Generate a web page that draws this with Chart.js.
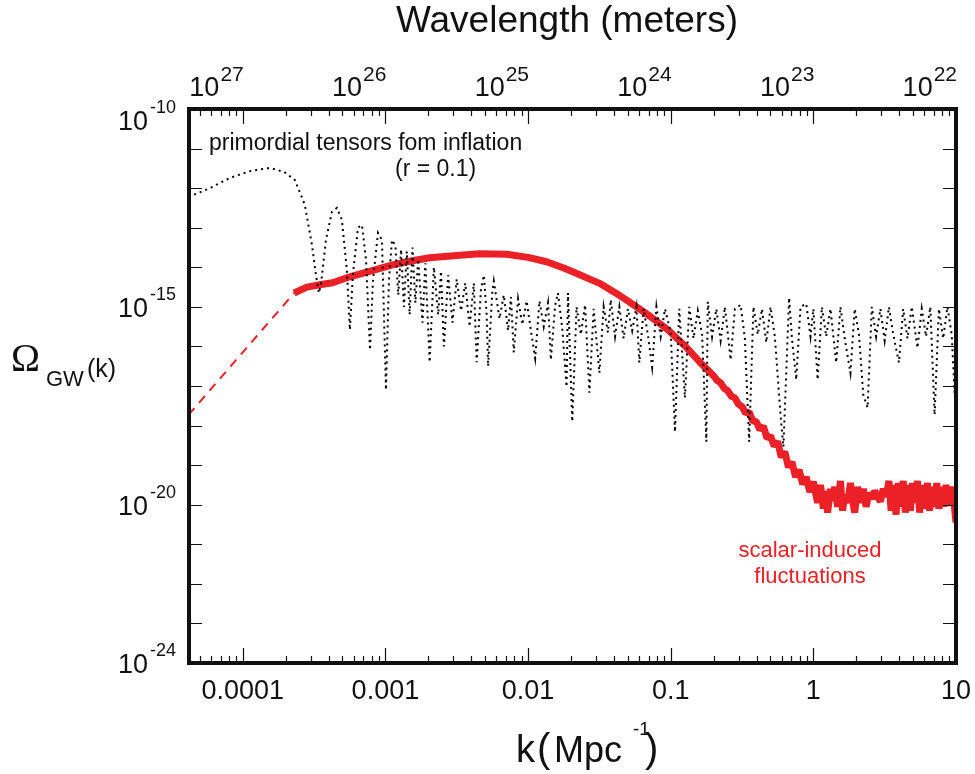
<!DOCTYPE html>
<html>
<head>
<meta charset="utf-8">
<script src="https://cdn.jsdelivr.net/npm/chart.js@4.4.1/dist/chart.umd.min.js"></script>
<style>
  html, body { margin: 0; padding: 0; background: #fff; }
  #wrap { width: 975px; height: 774px; }
</style>
</head>
<body>
<div id="wrap"><canvas id="chart" width="975" height="774"></canvas></div>
<script>
// log10(k) and log10(Omega)
const tensorLogK = [
  -4.38, -4.23, -4.09, -3.95, -3.81, -3.71, -3.635, -3.565, -3.515, -3.487, -3.466, -3.452, -3.417, -3.375, -3.34, -3.305,
  -3.27, -3.249, -3.228, -3.192, -3.164, -3.136, -3.108, -3.087, -3.052, -3.024, -2.996, -2.975, -2.954,
  -2.93, -2.91, -2.89, -2.87, -2.85, -2.83, -2.81, -2.79, -2.77, -2.74, -2.72, -2.69, -2.66, -2.63, -2.61, -2.59,
  -2.56, -2.53, -2.50, -2.47, -2.44, -2.41, -2.38, -2.36, -2.33, -2.31, -2.29, -2.28, -2.25, -2.24, -2.20, -2.17,
  -2.14, -2.12, -2.10, -2.07, -2.04, -2.01, -1.98, -1.95, -1.92, -1.89, -1.86, -1.84, -1.81, -1.79, -1.76, -1.73,
  -1.72, -1.69, -1.66, -1.63, -1.60, -1.57, -1.54, -1.50, -1.47, -1.44, -1.42, -1.39, -1.36, -1.33, -1.30, -1.27,
  -1.24, -1.22, -1.19, -1.16, -1.13, -1.10, -1.07, -1.04, -1.00, -0.97, -0.94, -0.90, -0.87, -0.84, -0.81, -0.78,
  -0.75, -0.74, -0.71, -0.68, -0.65, -0.62, -0.58, -0.55, -0.51, -0.48, -0.45, -0.42, -0.39, -0.36, -0.33, -0.30,
  -0.27, -0.23, -0.21, -0.17, -0.15, -0.12, -0.09, -0.05, -0.02, 0.00, 0.03, 0.06, 0.09, 0.12, 0.16, 0.19,
  0.22, 0.26, 0.29, 0.32, 0.35, 0.38, 0.41, 0.44, 0.47, 0.50, 0.53, 0.56, 0.60, 0.63, 0.66, 0.69,
  0.73, 0.76, 0.79, 0.82, 0.85, 0.88, 0.91, 0.94, 0.97, 0.99, 1.00
];
const tensorLogOmega = [
  -12.22, -12.00, -11.74, -11.57, -11.49, -11.59, -11.79, -12.42, -13.43, -14.19, -14.65, -14.44, -13.31, -12.60, -12.50, -12.80,
  -14.07, -15.58, -14.19, -13.00, -12.93, -13.81, -16.09, -14.32, -13.13, -13.31, -17.10, -14.32, -13.31,
  -13.45, -14.70, -13.55, -15.00, -13.60, -15.20, -13.50, -14.90, -13.80, -15.40, -13.90, -16.40, -14.00, -15.20, -14.10, -16.00,
  -14.20, -15.40, -14.30, -15.10, -14.40, -15.50, -14.40, -16.40, -14.55, -14.20, -15.20, -16.50, -14.60, -14.35, -15.30, -14.70,
  -15.60, -14.75, -16.15, -14.80, -15.45, -14.85, -15.60, -16.30, -14.85, -15.50, -14.90, -16.34, -14.95, -14.65, -15.55, -17.02,
  -14.65, -17.90, -15.00, -15.70, -14.95, -17.17, -15.05, -16.67, -15.00, -15.65, -14.82, -15.75, -15.00, -15.80, -15.05, -15.60,
  -15.00, -16.41, -15.05, -15.70, -16.52, -15.00, -15.75, -15.05, -15.65, -18.16, -15.05, -17.30, -15.00, -15.80, -15.10, -15.70,
  -18.41, -14.87, -15.75, -15.05, -15.85, -15.00, -16.34, -15.05, -14.95, -15.80, -18.41, -15.00, -15.70, -15.05, -15.90, -15.00,
  -15.75, -17.73, -18.54, -14.77, -15.80, -16.84, -15.00, -14.92, -15.75, -15.05, -16.84, -15.00, -15.75, -15.05, -16.41, -15.00,
  -15.80, -16.67, -15.05, -15.70, -17.22, -17.55, -15.00, -15.75, -15.05, -15.85, -15.00, -15.70, -16.41, -15.05, -15.80, -15.00,
  -16.04, -15.05, -15.75, -15.00, -17.73, -15.05, -15.80, -15.00, -15.70, -17.17, -15.10
];

const scalarExtrapLogK = [-4.38, -3.64];
const scalarExtrapLogOmega = [-17.73, -14.65];

const scalarLogK = [
  -3.64, -3.55, -3.46, -3.37, -3.25, -3.13, -2.95, -2.82, -2.69, -2.50, -2.34, -2.15, -2.00, -1.87, -1.75, -1.67,
  -1.58, -1.49, -1.38, -1.26, -1.14, -1.02, -0.91, -0.80,
  -0.70, -0.675, -0.65, -0.625, -0.60, -0.575, -0.55, -0.525, -0.50, -0.475, -0.45, -0.425, -0.40, -0.375, -0.35, -0.325,
  -0.30, -0.275, -0.25, -0.225, -0.20, -0.175, -0.15, -0.125, -0.10, -0.075, -0.05, -0.025,
  0.00, 0.015, 0.03, 0.05, 0.07, 0.085, 0.10, 0.12, 0.135, 0.15, 0.17, 0.19, 0.205, 0.22, 0.24, 0.26,
  0.275, 0.29, 0.31, 0.33, 0.35, 0.37, 0.39, 0.41, 0.43, 0.45, 0.47, 0.49, 0.51, 0.53, 0.545, 0.56,
  0.58, 0.595, 0.61, 0.63, 0.645, 0.66, 0.68, 0.695, 0.71, 0.73, 0.745, 0.76, 0.78, 0.80, 0.815, 0.83,
  0.85, 0.865, 0.88, 0.90, 0.915, 0.93, 0.95, 0.97, 0.985, 1.00
];
const scalarLogOmega = [
  -14.65, -14.50, -14.44, -14.39, -14.24, -14.12, -13.94, -13.84, -13.76, -13.70, -13.66, -13.67, -13.75, -13.86, -14.02, -14.14,
  -14.28, -14.42, -14.66, -14.95, -15.25, -15.58, -15.95, -16.38,
  -16.74, -16.86, -16.92, -17.06, -17.12, -17.26, -17.30, -17.46, -17.52, -17.68, -17.66, -17.88, -17.90, -18.10, -18.02, -18.32,
  -18.26, -18.52, -18.40, -18.80, -18.66, -19.05, -18.92, -19.30, -19.12, -19.48, -19.30, -19.68,
  -19.42, -19.70, -19.95, -19.50, -20.10, -19.65, -20.20, -19.60, -19.90, -19.55, -20.05, -19.40, -20.15, -19.75, -19.95, -19.45,
  -19.90, -20.20, -19.55, -19.95, -19.60, -20.05, -19.70, -19.85, -19.65, -19.80, -19.92, -19.60, -19.80, -19.40, -20.15, -19.50,
  -20.25, -19.45, -20.05, -19.40, -20.20, -19.50, -20.15, -19.45, -19.95, -19.40, -20.20, -19.50, -20.10, -19.45, -20.15, -19.55,
  -20.05, -19.45, -20.10, -19.55, -20.05, -19.50, -20.00, -19.55, -19.90, -20.45
];

// axis labels
const kTicks = [0.0001, 0.001, 0.01, 0.1, 1, 10];
const kTickLabels = ['0.0001', '0.001', '0.01', '0.1', '1', '10'];
const wavelengthExponents = ['27', '26', '25', '24', '23', '22'];
const omegaLabelExponents = [-10, -15, -20, -24];

const RED = '#ec2127';
const FONT = '"Liberation Sans", Arial, Helvetica, sans-serif';

function toPoints(lk, lo) {
  return lk.map((v, i) => ({ x: Math.pow(10, v), y: Math.pow(10, lo[i]) }));
}

function supLabel(ctx, x, y, base, exp, baseSize, expSize, expRise, align) {
  ctx.font = baseSize + 'px ' + FONT;
  const wb = ctx.measureText(base).width;
  ctx.font = expSize + 'px ' + FONT;
  const we = ctx.measureText(exp).width;
  let x0 = x;
  if (align === 'right') x0 = x - wb - we - 1;
  ctx.textAlign = 'left';
  ctx.textBaseline = 'alphabetic';
  ctx.font = baseSize + 'px ' + FONT;
  ctx.fillText(base, x0, y);
  ctx.font = expSize + 'px ' + FONT;
  ctx.fillText(exp, x0 + wb + 1, y - expRise);
}

const framePlugin = {
  id: 'frame',
  afterDraw(chart) {
    const ctx = chart.ctx;
    const a = chart.chartArea;
    const xs = chart.scales.x;
    const ys = chart.scales.y;
    ctx.save();
    ctx.fillStyle = '#111';
    ctx.strokeStyle = '#111';

    // x ticks, top and bottom, pointing inward
    ctx.lineWidth = 1.2;
    for (let d = -5; d <= 1; d++) {
      for (let m = 1; m <= 9; m++) {
        const v = m * Math.pow(10, d);
        if (v < xs.min || v > xs.max * 1.0001) continue;
        const px = Math.round(xs.getPixelForValue(v)) + 0.5;
        const len = m === 1 ? 15 : 7;
        ctx.beginPath();
        ctx.moveTo(px, a.bottom); ctx.lineTo(px, a.bottom - len);
        ctx.moveTo(px, a.top); ctx.lineTo(px, a.top + len);
        ctx.stroke();
      }
    }
    // y ticks every decade, left and right
    for (let e = -24; e <= -10; e++) {
      const py = Math.round(ys.getPixelForValue(Math.pow(10, e))) + 0.5;
      ctx.beginPath();
      ctx.moveTo(a.left, py); ctx.lineTo(a.left + 13, py);
      ctx.moveTo(a.right, py); ctx.lineTo(a.right - 13, py);
      ctx.stroke();
    }

    // frame
    ctx.lineWidth = 4;
    ctx.strokeRect(a.left, a.top, a.right - a.left, a.bottom - a.top);

    // bottom tick labels
    ctx.font = '27px ' + FONT;
    ctx.textAlign = 'center';
    ctx.textBaseline = 'alphabetic';
    kTicks.forEach((v, i) => {
      ctx.fillText(kTickLabels[i], xs.getPixelForValue(v), 699);
    });

    // top tick labels (wavelength)
    kTicks.forEach((v, i) => {
      supLabel(ctx, xs.getPixelForValue(v) + 1, 96, '10', wavelengthExponents[i], 27, 21, 15, 'right');
    });

    // left tick labels
    omegaLabelExponents.forEach(e => {
      let py = ys.getPixelForValue(Math.pow(10, e)) + 10;
      if (e === -10) py = 130;
      ctx.font = '27px ' + FONT;
      const w10 = ctx.measureText('10').width;
      ctx.textAlign = 'left';
      ctx.fillText('10', 148 - w10, py);
      ctx.font = '18px ' + FONT;
      ctx.fillText(String(e), 150, py - 17);
    });

    // axis titles
    ctx.font = '37px ' + FONT;
    ctx.textAlign = 'center';
    ctx.fillText('Wavelength (meters)', 567, 32);

    ctx.textAlign = 'left';
    ctx.font = '38px ' + FONT;
    ctx.fillText('k', 516, 762);
    ctx.font = '40px ' + FONT;
    ctx.fillText('(', 537, 762);
    ctx.font = '36px ' + FONT;
    ctx.fillText('Mpc', 554, 762);
    ctx.font = '19px ' + FONT;
    ctx.fillText('-1', 633, 735);
    ctx.font = '40px ' + FONT;
    ctx.fillText(')', 645, 762);

    ctx.font = '39px "Liberation Serif", "DejaVu Serif", serif';
    ctx.fillText('\u03A9', 11, 371);
    ctx.font = '22px ' + FONT;
    ctx.fillText('GW', 46, 386);
    ctx.font = '25px ' + FONT;
    ctx.fillText('(k)', 87, 377);

    // annotations
    ctx.font = '23px ' + FONT;
    ctx.fillText('primordial tensors fom inflation', 209, 150);
    ctx.fillText('(r = 0.1)', 395, 176);
    ctx.fillStyle = RED;
    ctx.font = '22px ' + FONT;
    ctx.textAlign = 'center';
    ctx.fillText('scalar-induced', 810, 557);
    ctx.fillText('fluctuations', 810, 583);
    ctx.restore();
  }
};

new Chart(document.getElementById('chart').getContext('2d'), {
  type: 'line',
  data: {
    datasets: [
      {
        label: 'primordial tensors',
        data: toPoints(tensorLogK, tensorLogOmega),
        borderColor: '#000',
        borderWidth: 2,
        borderDash: [2, 4],
        pointRadius: 0,
        tension: 0
      },
      {
        label: 'scalar-induced (extrapolated)',
        data: toPoints(scalarExtrapLogK, scalarExtrapLogOmega),
        borderColor: RED,
        borderWidth: 2,
        borderDash: [9, 7],
        pointRadius: 0,
        tension: 0
      },
      {
        label: 'scalar-induced fluctuations',
        data: toPoints(scalarLogK, scalarLogOmega),
        borderColor: RED,
        borderWidth: 7,
        borderJoinStyle: 'bevel',
        borderCapStyle: 'butt',
        pointRadius: 0,
        tension: 0
      }
    ]
  },
  options: {
    responsive: false,
    animation: false,
    layout: { padding: { left: 189, right: 19, top: 109, bottom: 111 } },
    plugins: { legend: { display: false }, tooltip: { enabled: false } },
    scales: {
      x: { type: 'logarithmic', min: 4.2e-5, max: 10, bounds: 'data', display: false },
      y: { type: 'logarithmic', min: 1e-24, max: 1e-10, bounds: 'data', display: false }
    }
  },
  plugins: [framePlugin]
});
</script>
</body>
</html>
